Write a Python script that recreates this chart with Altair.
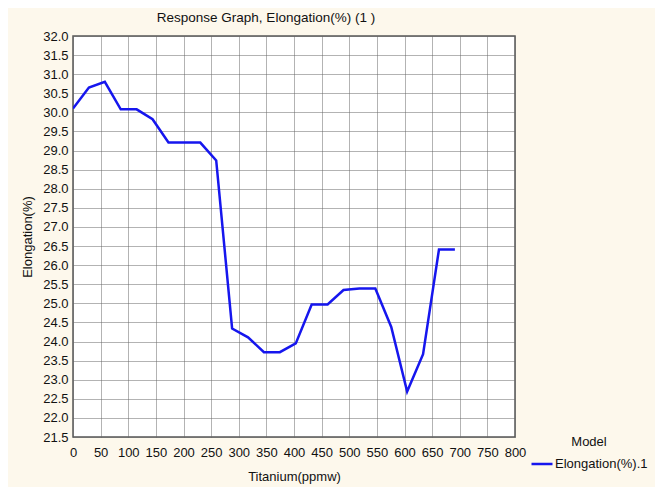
import altair as alt
import pandas as pd

titanium = [0, 28.8, 57.6, 86.4, 115.2, 144, 172.8, 201.6, 230.4, 259.2, 288, 316.8,
            345.6, 374.4, 403.2, 432, 460.8, 489.6, 518.4, 547.2, 576, 604.8, 633.6,
            662.4, 691.2]
elongation = [30.1, 30.65, 30.8, 30.08, 30.08, 29.82, 29.21, 29.21, 29.21, 28.74, 24.34,
              24.11, 23.72, 23.72, 23.95, 24.97, 24.97, 25.35, 25.39, 25.39, 24.38, 22.69,
              23.67, 26.41, 26.41]
series = ["Elongation(%).1"] * len(titanium)

x_ticks = list(range(0, 801, 50))
y_ticks = [21.5 + 0.5 * i for i in range(22)]

df = pd.DataFrame({"Titanium": titanium, "Elongation": elongation, "Series": series})

FONT = "Liberation Sans"
FS = 13

chart = (
    alt.Chart(df)
    .mark_line(strokeWidth=2.5, clip=True)
    .encode(
        x=alt.X(
            "Titanium:Q",
            scale=alt.Scale(domain=[0, 800], nice=False, zero=False),
            axis=alt.Axis(
                title="Titanium(ppmw)",
                values=x_ticks,
                format="d",
                labelPadding=9,
                titlePadding=11,
                ticks=False,
                labelFlush=False,
            ),
        ),
        y=alt.Y(
            "Elongation:Q",
            scale=alt.Scale(domain=[21.5, 32], nice=False, zero=False),
            axis=alt.Axis(
                title="Elongation(%)",
                values=y_ticks,
                format=".1f",
                labelPadding=5,
                titlePadding=8,
                ticks=False,
                labelFlush=False,
            ),
        ),
        color=alt.Color(
            "Series:N",
            scale=alt.Scale(range=["#1616ee"]),
            legend=alt.Legend(
                title="Model",
                orient="none",
                legendX=457,
                legendY=400,
                titleAnchor="middle",
                symbolType="stroke",
                symbolSize=441,
                symbolStrokeWidth=2.5,
                labelOffset=1,
                titleFontWeight="normal",
                titleFontSize=FS,
                labelFontSize=FS,
                titleFont=FONT,
                labelFont=FONT,
                titleColor="#111",
                labelColor="#111",
                titlePadding=3,
            ),
        ),
    )
    .properties(
        width=442,
        height=401,
        autosize=alt.AutoSizeParams(type="none"),
        padding={"left": 65, "top": 28, "right": 140, "bottom": 50},
        background="#fdf8ec",
        title=alt.TitleParams(
            "Response Graph, Elongation(%) (1 )",
            fontSize=13.5,
            fontWeight="normal",
            font=FONT,
            color="#111",
            anchor="middle",
            dx=-28,
            offset=6,
        ),
    )
    .configure_view(fill="white", stroke="#555555", strokeWidth=1.5)
    .configure_axis(
        grid=True,
        gridColor="#666666",
        gridDash=[1, 1],
        gridWidth=1,
        gridOpacity=1,
        domain=False,
        labelFont=FONT,
        titleFont=FONT,
        labelFontSize=FS,
        titleFontSize=FS,
        labelColor="#111",
        titleColor="#111",
        titleFontWeight="normal",
    )
)

chart.save("out.html", embed_options={"renderer": "svg", "actions": False})
